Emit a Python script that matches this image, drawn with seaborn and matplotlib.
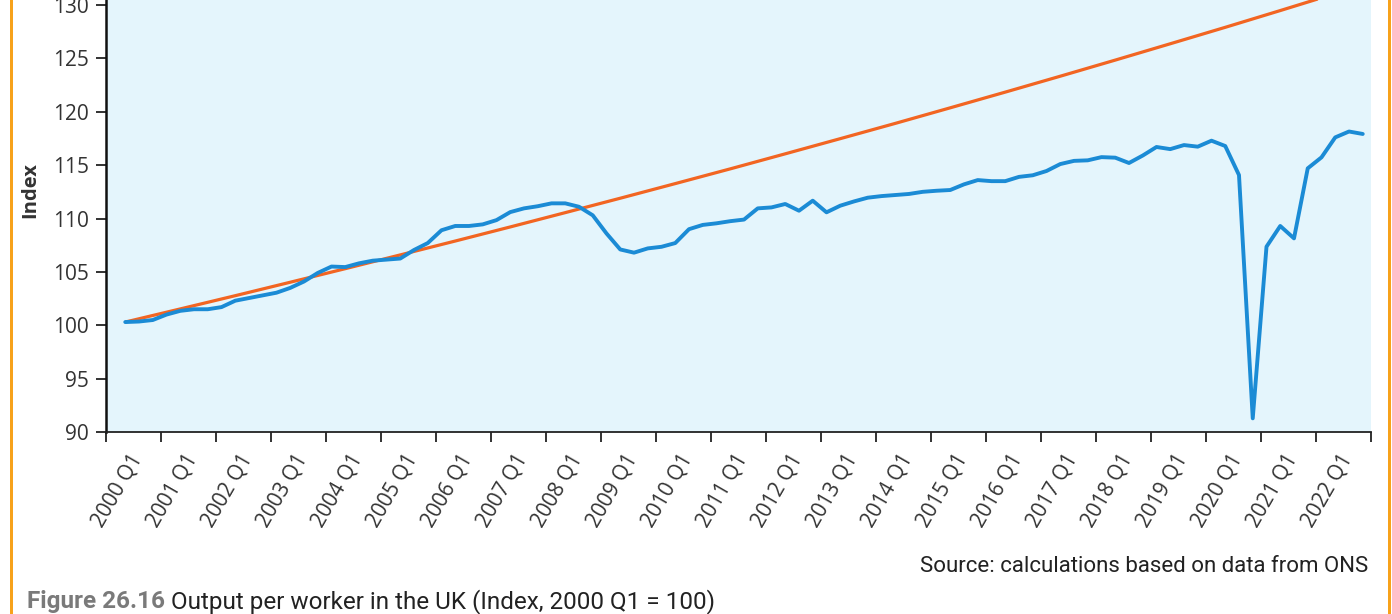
import numpy as np
import pandas as pd
import matplotlib
matplotlib.use("Agg")
import matplotlib.pyplot as plt
import seaborn as sns
from matplotlib.patches import Rectangle

# ---------------- data ----------------
tick_years = list(range(2000, 2023))
tick_labels = [f"{y} Q1" for y in tick_years]

quarter_index = list(range(1, 92))
output_per_worker = [
    100.30, 100.35, 100.49, 101.00, 101.35, 101.50, 101.50, 101.70, 102.30, 102.55,
    102.80, 103.05, 103.50, 104.10, 104.90, 105.50, 105.45, 105.80, 106.05, 106.15,
    106.25, 107.05, 107.70, 108.90, 109.30, 109.30, 109.45, 109.85, 110.60, 110.95,
    111.15, 111.42, 111.42, 111.10, 110.30, 108.60, 107.10, 106.80, 107.20, 107.35,
    107.70, 109.00, 109.40, 109.55, 109.75, 109.90, 110.95, 111.04, 111.36, 110.73,
    111.67, 110.58, 111.20, 111.60, 111.95, 112.10, 112.20, 112.30, 112.50, 112.60,
    112.67, 113.20, 113.60, 113.50, 113.50, 113.90, 114.05, 114.45, 115.10, 115.40,
    115.45, 115.75, 115.70, 115.20, 115.90, 116.70, 116.50, 116.88, 116.73, 117.29,
    116.79, 114.07, 91.28, 107.36, 109.30, 108.14, 114.70, 115.73, 117.60, 118.15,
    117.92,
]

trend_quarter = [1, 5, 9, 13, 17, 21, 25, 29, 33, 37, 41, 45, 49, 53, 57, 61,
                 65, 69, 73, 77, 81, 85, 89, 91]
trend_values = [100.30, 101.53, 102.77, 104.03, 105.30, 106.59, 107.89, 109.21,
                110.55, 111.90, 113.27, 114.65, 116.06, 117.48, 118.91, 120.37,
                121.84, 123.33, 124.84, 126.37, 127.91, 129.48, 131.07, 131.86]

# ---------------- style ----------------
sns.set_theme(style="white")
plt.rcParams['font.family'] = ['Open Sans', 'DejaVu Sans']

BLUE = '#1B8BD5'
ORANGE = '#F26522'
BAR = '#F7A21B'
BG = '#E4F5FC'
TXT = '#333333'

fig = plt.figure(figsize=(13.92, 6.14), dpi=100)
ax = fig.add_axes([0.07615, 0.29642, 0.90876, 0.70358])
ax.set_facecolor(BG)

pos_offset = 0.4
df_line = pd.DataFrame({'q': np.array(quarter_index) + pos_offset,
                        'v': output_per_worker})
df_trend = pd.DataFrame({'q': np.array(trend_quarter) + pos_offset,
                         'v': trend_values})

sns.lineplot(data=df_trend, x='q', y='v', color=ORANGE, linewidth=2.3, ax=ax,
             solid_capstyle='butt')
sns.lineplot(data=df_line, x='q', y='v', color=BLUE, linewidth=2.8, ax=ax,
             solid_joinstyle='round')

ax.set_xlim(0, 92)
ax.set_ylim(90, 130.47)
ax.set_yticks(range(90, 131, 5))

ax.set_xticks(np.arange(0, 93, 4))
ax.set_xticklabels([])
ax.set_xticks(np.arange(len(tick_labels)) * 4 + 1.65, minor=True)
ax.set_xticklabels(tick_labels, minor=True, rotation=60, ha='right', va='top',
                   rotation_mode='anchor')

ax.tick_params(axis='x', which='minor', bottom=True, length=0, pad=13,
               labelsize=15, labelcolor=TXT)
ax.tick_params(axis='x', which='major', bottom=True, length=7.5, width=1.3,
               color='#222222', direction='out')
ax.tick_params(axis='y', left=True, length=7.5, width=1.3, color='#222222',
               pad=5, labelsize=15, labelcolor=TXT)

for s in ['top', 'right']:
    ax.spines[s].set_visible(False)
ax.spines['left'].set_color('#111111')
ax.spines['left'].set_linewidth(1.8)
ax.spines['bottom'].set_color('#222222')
ax.spines['bottom'].set_linewidth(1.3)

ax.set_xlabel('')
ax.set_ylabel('Index', fontsize=14.5, fontweight='bold', color=TXT)
ax.yaxis.set_label_coords(-0.052, 0.56)

# decorative orange side bars
fig.add_artist(Rectangle((10 / 1392, 0), 3 / 1392, 1, transform=fig.transFigure,
                         color=BAR, lw=0))
fig.add_artist(Rectangle((1387.5 / 1392, 0), 3.5 / 1392, 1, transform=fig.transFigure,
                         color=BAR, lw=0))

# source and caption
fig.text(1368 / 1392, 1 - 572 / 614, 'Source: calculations based on data from ONS',
         ha='right', va='baseline', fontsize=16, family=['Roboto', 'DejaVu Sans'],
         color='#222222')

t1 = fig.text(27 / 1392, 1 - 608 / 614, 'Figure 26.16', ha='left', va='baseline',
              fontsize=17.5, fontweight='bold', family=['Roboto', 'DejaVu Sans'],
              color='#7A7A7A')
fig.canvas.draw()
bb = t1.get_window_extent(renderer=fig.canvas.get_renderer())
x_next = bb.x1 / fig.bbox.width
fig.text(x_next, 1 - 608 / 614, ' Output per worker in the UK (Index, 2000 Q1 = 100)',
         ha='left', va='baseline', fontsize=17.5, family=['Roboto', 'DejaVu Sans'],
         color='#222222')

fig.savefig('out.png', dpi=100)
